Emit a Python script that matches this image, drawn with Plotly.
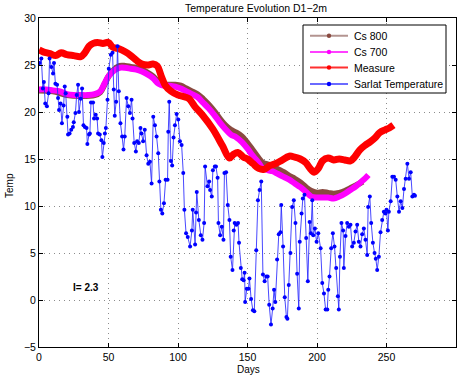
import plotly.graph_objects as go

# ---------------- data ----------------
measure_days = [0, 3, 8, 12, 16, 20, 25, 30, 33, 36, 39, 42, 46, 50, 53, 58, 62, 66, 70, 74, 78, 82, 85, 88,
                91, 95, 100, 105, 108, 112, 118, 125, 132, 137, 140, 143, 147, 150, 154, 158, 162, 166, 170,
                174, 180, 184, 188, 192, 195, 198, 201, 204, 208, 212, 216, 220, 224, 227, 231, 235, 238, 242,
                245, 249, 252, 255]
measure_vals = [26.6, 26.4, 26.2, 26.0, 26.3, 26.1, 26.0, 25.9, 26.3, 27.0, 27.3, 27.4, 27.3, 27.4, 26.9, 26.7,
                26.4, 26.0, 25.5, 25.1, 25.0, 25.1, 24.9, 23.8, 22.8, 22.2, 21.8, 21.6, 21.4, 20.6, 19.6, 18.2,
                16.4, 15.1, 15.5, 15.7, 15.2, 15.0, 14.5, 14.0, 13.9, 14.3, 14.5, 14.8, 15.3, 15.2, 15.0, 14.6,
                14.0, 13.6, 14.0, 14.8, 15.1, 14.9, 15.0, 14.9, 14.8, 15.2, 16.0, 16.5, 16.8, 17.3, 17.8, 18.1,
                18.3, 18.6]

cs700_days = [0, 5, 10, 15, 20, 25, 30, 35, 40, 44, 47, 50, 54, 58, 62, 66, 70, 74, 78, 82, 86, 90, 94, 98,
              102, 106, 110, 114, 118, 122, 126, 130, 134, 138, 142, 146, 150, 154, 158, 161, 165, 168, 172,
              176, 180, 184, 188, 192, 196, 200, 204, 208, 212, 216, 220, 224, 228, 232, 235, 237]
cs700_vals = [22.4, 22.4, 22.3, 22.2, 21.9, 21.8, 21.8, 21.8, 21.9, 22.2, 23.0, 23.8, 24.4, 24.7, 24.7, 24.6,
              24.5, 24.3, 24.0, 23.6, 23.0, 22.8, 22.8, 22.7, 22.5, 22.2, 21.9, 21.6, 21.0, 20.4, 19.7, 18.9,
              18.2, 17.6, 17.3, 16.8, 16.1, 15.3, 14.6, 14.0, 13.8, 13.7, 13.4, 13.1, 12.8, 12.4, 12.0, 11.5,
              11.0, 10.9, 10.9, 10.9, 10.8, 11.0, 11.3, 11.7, 12.1, 12.6, 13.0, 13.3]

cs800_days = [0, 10, 20, 30, 40, 44, 47, 50, 54, 58, 62, 66, 70, 74, 78, 82, 86, 90, 94, 98, 102, 106, 110,
              114, 118, 122, 126, 130, 134, 138, 142, 146, 150, 154, 158, 161, 165, 168, 172, 176, 180, 184,
              188, 192, 196, 200, 204, 208, 212, 216, 220, 224, 228, 233]
cs800_vals = [22.3, 22.2, 21.8, 21.7, 21.8, 22.1, 22.9, 23.8, 24.5, 24.9, 24.9, 24.8, 24.7, 24.5, 24.2, 23.8,
              23.2, 22.9, 22.9, 22.9, 22.8, 22.5, 22.2, 21.9, 21.4, 20.8, 20.1, 19.3, 18.6, 18.1, 17.8, 17.4,
              16.7, 15.9, 15.1, 14.6, 14.4, 14.2, 13.9, 13.6, 13.2, 12.9, 12.5, 12.0, 11.6, 11.4, 11.5, 11.4,
              11.3, 11.4, 11.6, 11.9, 12.2, 12.6]

sarlat_days = [0.4, 1.7, 2.8, 3.5, 4.5, 5.7, 6.9, 7.6, 8.9, 10.1, 10.8, 11.8, 13.0, 13.7, 14.4, 15.5, 16.5,
               17.7, 18.5, 19.2, 20.4, 20.9, 22.0, 23.2, 24.4, 25.0, 26.2, 27.1, 28.1, 28.8, 30.0, 31.0, 32.0,
               33.0, 34.2, 34.8, 36.0, 36.6, 37.4, 38.9, 39.6, 40.8, 41.8, 42.5, 43.7, 44.9, 45.6, 46.6, 47.4,
               48.1, 49.3, 50.2, 51.7, 52.9, 53.8, 54.5, 55.5, 56.5, 57.4, 58.6, 59.8, 60.8, 61.7, 63.0, 64.2,
               65.4, 66.6, 67.3, 68.5, 69.7, 70.6, 71.8, 73.0, 73.7, 74.9, 76.1, 77.4, 78.6, 79.8, 81.0, 82.2,
               83.4, 84.6, 85.8, 86.6, 87.7, 88.7, 89.9, 91.1, 92.5, 93.0, 93.7, 94.9, 95.8, 96.8, 97.8, 99.0,
               100.2, 101.4, 102.6, 103.8, 104.6, 105.8, 107.0, 108.7, 110.0, 110.6, 112.3, 113.0, 113.5,
               115.0, 116.4, 117.6, 118.8, 119.5, 121.2, 122.4, 123.1, 124.3, 125.1, 126.5, 127.3, 128.5,
               129.1, 130.3, 131.5, 132.7, 133.4, 134.6, 135.8, 137.0, 137.9, 139.2, 140.1, 140.8, 142.0,
               143.2, 143.9, 145.2, 146.2, 147.2, 147.9, 148.3, 149.5, 150.7, 151.4, 152.6, 153.9, 154.9,
               156.3, 157.5, 158.7, 159.9, 161.1, 162.3, 163.5, 164.5, 165.6, 166.9, 168.1, 169.1, 170.0,
               171.3, 172.5, 173.7, 174.3, 175.6, 176.8, 178.0, 178.7, 179.7, 180.9, 182.1, 183.3, 184.5,
               185.7, 186.9, 187.6, 188.9, 189.8, 191.0, 192.2, 193.4, 194.7, 195.6, 196.6, 197.3, 198.5,
               199.7, 200.9, 202.6, 203.8, 205.0, 206.2, 207.4, 208.1, 209.0, 210.2, 211.4, 212.6, 213.8,
               215.0, 215.7, 216.5, 217.6, 218.8, 219.3, 220.5, 221.7, 222.9, 224.1, 225.3, 226.5, 227.7,
               228.9, 230.1, 231.3, 232.5, 233.7, 234.9, 236.1, 236.8, 238.0, 239.0, 240.2, 241.4, 242.3,
               243.3, 244.5, 245.7, 246.9, 248.1, 249.3, 250.0, 251.0, 251.7, 253.0, 254.2, 255.4, 256.6,
               257.8, 259.0, 260.2, 261.4, 262.6, 263.8, 265.0, 266.2, 267.4, 268.6, 269.8, 270.5]
sarlat_vals = [25.2, 25.7, 22.5, 23.2, 20.9, 20.6, 22.0, 25.7, 24.8, 24.1, 25.2, 23.0, 22.9, 21.5, 20.2, 20.9,
               18.8, 20.7, 22.7, 22.0, 19.5, 17.6, 17.7, 18.1, 18.4, 18.9, 19.9, 21.8, 22.9, 20.0, 21.4, 22.5,
               18.6, 18.4, 18.3, 16.6, 17.6, 17.7, 21.0, 21.0, 19.3, 19.7, 19.3, 17.7, 17.6, 17.0, 15.2, 16.7,
               17.7, 18.3, 21.3, 24.6, 26.1, 26.3, 22.4, 19.6, 21.1, 27.0, 22.2, 18.8, 17.4, 16.0, 17.4, 21.5,
               20.6, 19.9, 21.3, 19.3, 16.7, 15.8, 16.9, 16.7, 18.3, 17.7, 16.9, 18.1, 15.4, 14.5, 14.7, 12.4,
               19.5, 18.6, 17.4, 15.6, 12.6, 9.6, 9.2, 10.3, 12.8, 12.8, 17.9, 21.1, 14.8, 14.3, 17.3, 18.6,
               19.8, 19.2, 16.9, 16.5, 13.5, 9.6, 7.1, 6.7, 5.7, 7.4, 9.6, 5.9, 9.3, 11.5, 8.5, 6.9, 6.4, 8.2,
               14.2, 12.1, 12.6, 11.7, 11.0, 13.8, 14.2, 14.2, 13.0, 8.2, 6.9, 7.8, 6.4, 13.5, 13.6, 10.1, 8.5,
               4.6, 3.2, 7.4, 8.2, 8.0, 8.2, 6.1, 3.4, 2.2, 2.1, 2.9, -0.2, 1.2, 1.2, 2.3, 0.1, -1.1, -1.2, 5.3,
               10.6, 11.7, 12.6, 2.7, 2.0, 2.5, 2.5, -0.5, -2.6, -0.9, 1.1, -0.2, 4.3, 7.0, 7.2, 10.1, 5.7, 0.3,
               -1.8, -2.0, 1.6, 5.0, 9.9, 10.6, 8.2, 2.8, -0.9, 6.2, 9.2, 10.8, 11.2, 6.6, 2.0, 8.3, 7.1, 10.6,
               6.9, 7.6, 6.2, 7.1, 5.5, 1.8, 0.7, -1.0, -1.0, 1.1, 2.5, 5.5, 7.1, 5.7, 3.4, 0.4, -1.0, 4.6, 8.2,
               7.4, 3.4, 6.8, 8.2, 7.8, 8.0, 5.7, 6.1, 7.3, 8.0, 6.2, 5.7, 7.0, 7.6, 6.4, 4.8, 9.9, 11.0, 8.2,
               6.1, 5.0, 4.4, 3.2, 4.6, 7.2, 8.5, 9.4, 9.2, 9.6, 7.4, 9.4, 10.5, 13.1, 13.1, 12.8, 11.0, 9.4,
               10.5, 9.8, 11.8, 12.9, 14.5, 12.9, 13.6, 11.0, 11.2, 11.1]

x_ticks = [0, 50, 100, 150, 200, 250, 300]
y_ticks = [-5, 0, 5, 10, 15, 20, 25, 30]
legend_names = ["Cs 800", "Cs 700", "Measure", "Sarlat Temperature"]
title_text = "Temperature Evolution D1\u22122m"
annotation_text = "<b>I= 2.3</b>"

BROWN = "#8a4a40"
MAGENTA = "#ff00ff"
RED = "#ff0000"
BLUE = "#0000ff"
legend_line_colors = ["#b39490", "#ff40ff", "#ff3030", "#6a6aff"]
legend_dot_colors = [BROWN, MAGENTA, RED, BLUE]

fig = go.Figure()

fig.add_trace(go.Scatter(x=cs800_days, y=cs800_vals, mode="lines", line=dict(color=BROWN, width=6),
                         name=legend_names[0], line_shape="spline"))
fig.add_trace(go.Scatter(x=cs700_days, y=cs700_vals, mode="lines", line=dict(color=MAGENTA, width=6),
                         name=legend_names[1], line_shape="spline"))
fig.add_trace(go.Scatter(x=measure_days, y=measure_vals, mode="lines", line=dict(color=RED, width=7),
                         name=legend_names[2], line_shape="spline"))
fig.add_trace(go.Scatter(x=sarlat_days, y=sarlat_vals, mode="lines+markers",
                         line=dict(color="rgba(40,40,255,0.85)", width=1),
                         marker=dict(color=BLUE, size=4), name=legend_names[3]))

# ---- plot-area geometry (pixels) ----
W, H = 463, 376
L, R, T, B = 39, 7, 18, 29
pw, ph = W - L - R, H - T - B


def px_x(p):
    return (p - L) / pw


def px_y(p):
    return (H - B - p) / ph


shapes = []
annotations = []

# manual legend box (MATLAB-style compact legend)
shapes.append(dict(type="rect", xref="paper", yref="paper", x0=px_x(303), x1=px_x(446),
                   y0=px_y(93), y1=px_y(25), line=dict(color="black", width=1), fillcolor="white",
                   layer="above"))
entry_y = [35.7, 52.0, 67.5, 84.0]
for name, lc, dc, yy in zip(legend_names, legend_line_colors, legend_dot_colors, entry_y):
    shapes.append(dict(type="line", xref="paper", yref="paper", x0=px_x(310), x1=px_x(348),
                       y0=px_y(yy), y1=px_y(yy), line=dict(color=lc, width=2), layer="above"))
    shapes.append(dict(type="circle", xref="paper", yref="paper", xsizemode="pixel", ysizemode="pixel",
                       xanchor=px_x(329), yanchor=px_y(yy), x0=-2.2, x1=2.2, y0=-2.2, y1=2.2,
                       fillcolor=dc, line=dict(color=dc, width=0), layer="above"))
    annotations.append(dict(xref="paper", yref="paper", x=px_x(352), y=px_y(yy), xanchor="left",
                            yanchor="middle", text=name, showarrow=False,
                            font=dict(size=10.5, color="black")))

annotations.append(dict(x=34, y=1.3, text=annotation_text, showarrow=False,
                        font=dict(size=10, color="black")))
annotations.append(dict(xref="paper", yref="paper", x=px_x(248), y=px_y(369), text="Days",
                        showarrow=False, xanchor="center", yanchor="middle", font=dict(size=10)))
annotations.append(dict(xref="paper", yref="paper", x=px_x(9), y=px_y(186), text="Temp",
                        showarrow=False, xanchor="center", yanchor="middle", textangle=-90,
                        font=dict(size=10)))
annotations.append(dict(xref="paper", yref="paper", x=px_x(256), y=px_y(8), text=title_text,
                        showarrow=False, xanchor="center", yanchor="middle", font=dict(size=10.5)))

axis_common = dict(showline=True, linecolor="black", linewidth=1, mirror="ticks", ticks="inside",
                   ticklen=4, tickcolor="black", showgrid=True, gridcolor="#8c8c8c",
                   griddash="1px,4px", gridwidth=1, zeroline=False,
                   tickfont=dict(size=10.5, color="black"), automargin=False)

fig.update_layout(
    width=W, height=H,
    margin=dict(l=L, r=R, t=T, b=B),
    paper_bgcolor="white", plot_bgcolor="white",
    font=dict(family="Liberation Sans, Arial, sans-serif", size=10, color="black"),
    xaxis=dict(range=[0, 300], tickvals=x_ticks, **axis_common),
    yaxis=dict(range=[-5, 30], tickvals=y_ticks, **axis_common),
    showlegend=False,
    shapes=shapes,
    annotations=annotations,
)

fig.write_html("out.html", config={"displayModeBar": False},
               post_script="document.body.style.margin='0';document.body.style.overflow='hidden';")
